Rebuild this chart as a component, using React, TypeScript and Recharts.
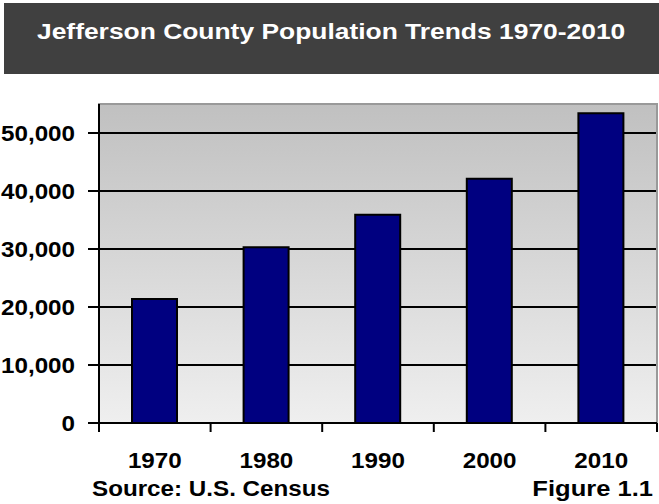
import { BarChart, Bar, XAxis, YAxis, CartesianGrid, ReferenceArea } from 'recharts'

const years = ['1970', '1980', '1990', '2000', '2010']
const population = [21400, 30300, 35900, 42100, 53400]
const yTicks = [0, 10000, 20000, 30000, 40000, 50000]

const data = years.map((year, i) => ({ year, population: population[i] }))

const font = '"Liberation Sans", Arial, sans-serif'
const stretch = 1.1

function YTick({ x, y, payload }: any) {
  return (
    <text
      transform={`translate(${x},${y}) scale(${stretch},1)`}
      textAnchor="end"
      dy="0.36em"
      fontFamily={font}
      fontWeight="bold"
      fontSize={22}
      fill="#000"
    >
      {Number(payload.value).toLocaleString('en-US')}
    </text>
  )
}

function XTick({ x, y, payload, index }: any) {
  const half = payload.offset || 55.8
  return (
    <g>
      {index === 0 && <line x1={x - half} x2={x - half} y1={y} y2={y + 9} stroke="#000" strokeWidth={2} />}
      <line x1={x + half} x2={x + half} y1={y} y2={y + 9} stroke="#000" strokeWidth={2} />
      <text
        transform={`translate(${x},${y + 45}) scale(${stretch},1)`}
        textAnchor="middle"
        fontFamily={font}
        fontWeight="bold"
        fontSize={22}
        fill="#000"
      >
        {payload.value}
      </text>
    </g>
  )
}

export default function App() {
  return (
    <div style={{ position: 'absolute', left: 0, top: 0, width: 659, height: 504, background: '#fff', fontFamily: font }}>
      <div
        style={{
          position: 'absolute',
          left: 4,
          top: 3,
          width: 655,
          height: 71,
          background: '#404040',
          display: 'flex',
          alignItems: 'center',
          justifyContent: 'center',
        }}
      >
        <div
          style={{
            color: '#fff',
            fontWeight: 'bold',
            fontSize: 22,
            transform: 'scaleX(1.2)',
            marginTop: -14,
            whiteSpace: 'nowrap',
          }}
        >
          Jefferson County Population Trends 1970-2010
        </div>
      </div>

      <BarChart width={659} height={504} data={data} margin={{ top: 104, right: 2, bottom: 21, left: 0 }}>
        <defs>
          <linearGradient id="plotBg" x1="0" y1="0" x2="0" y2="1">
            <stop offset="0%" stopColor="#c0c0c0" />
            <stop offset="100%" stopColor="#efefef" />
          </linearGradient>
        </defs>
        <CartesianGrid vertical={false} fill="url(#plotBg)" stroke="#000" strokeWidth={2} />
        <ReferenceArea y1={0} y2={55000} fill="none" stroke="#999" strokeWidth={2} ifOverflow="visible" />
        <XAxis
          dataKey="year"
          height={60}
          tickLine={false}
          tickSize={0}
          tickMargin={0}
          axisLine={{ stroke: '#000', strokeWidth: 2 }}
          tick={<XTick />}
          interval={0}
        />
        <YAxis
          width={99}
          domain={[0, 55000]}
          ticks={yTicks}
          tickSize={11}
          tickMargin={13}
          tickLine={{ stroke: '#000', strokeWidth: 2 }}
          axisLine={{ stroke: '#000', strokeWidth: 2 }}
          tick={<YTick />}
        />
        <Bar dataKey="population" fill="#000080" stroke="#000" strokeWidth={2} barSize={45} isAnimationActive={false} />
      </BarChart>

      <div style={{ position: 'absolute', left: 92, top: 476, fontWeight: 'bold', fontSize: 22, whiteSpace: 'nowrap', transform: 'scaleX(1.1)', transformOrigin: 'left' }}>
        Source: U.S. Census
      </div>
      <div style={{ position: 'absolute', right: 6, top: 476, fontWeight: 'bold', fontSize: 22, whiteSpace: 'nowrap', transform: 'scaleX(1.16)', transformOrigin: 'right' }}>
        Figure 1.1
      </div>
    </div>
  )
}
